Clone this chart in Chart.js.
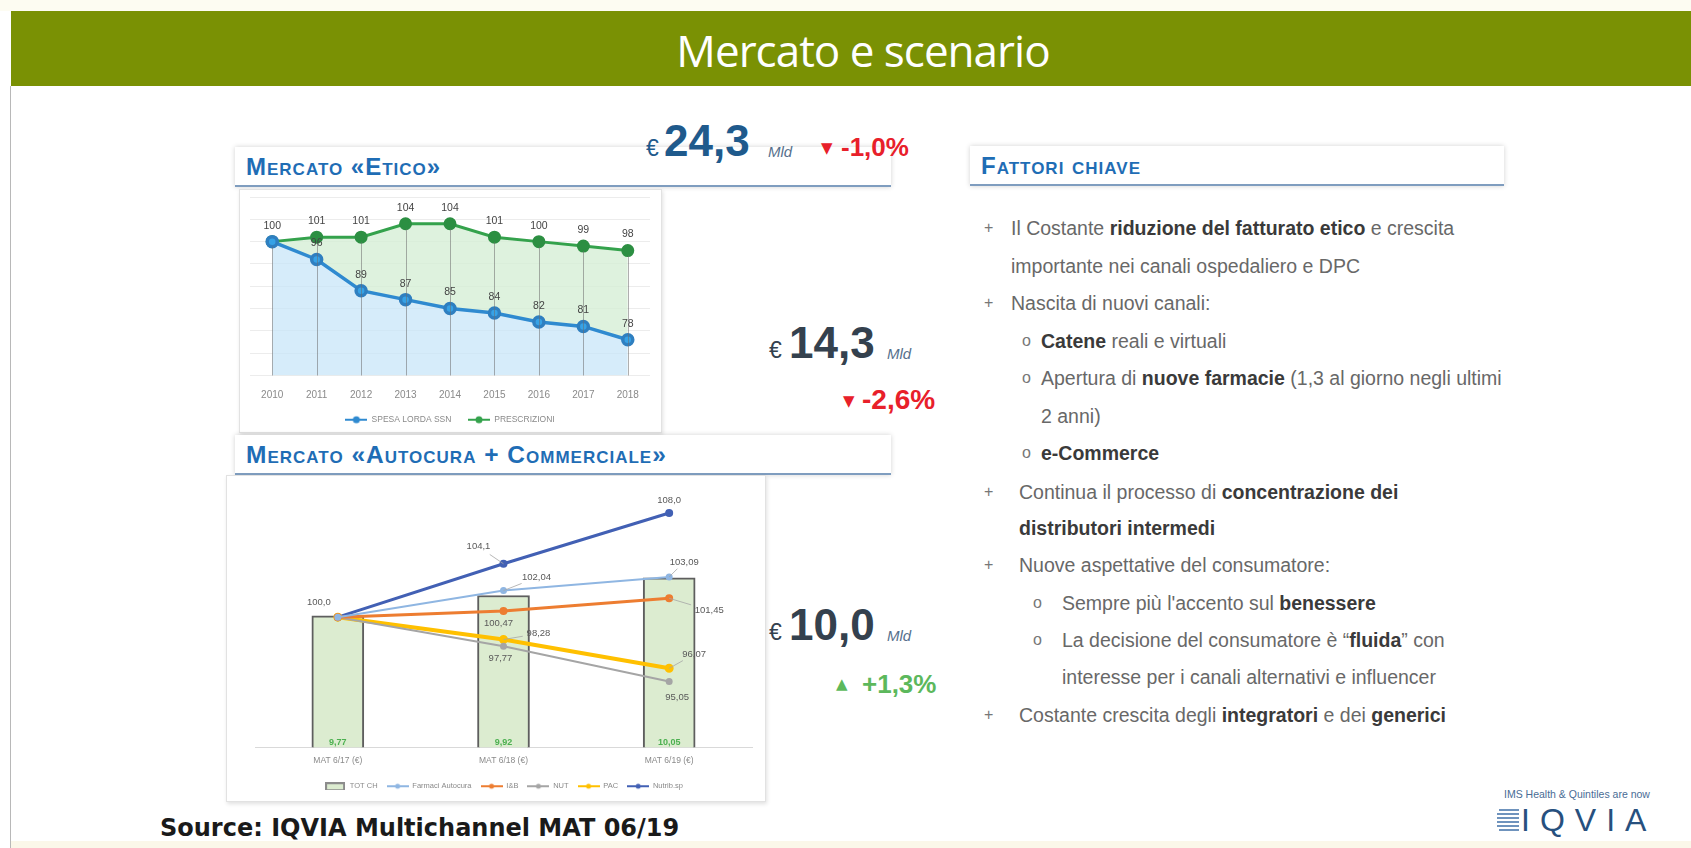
<!DOCTYPE html>
<html>
<head>
<meta charset="utf-8">
<script src="https://cdn.jsdelivr.net/npm/chart.js@4.4.1/dist/chart.umd.min.js"></script>
<style>
  body { margin:0; width:1691px; height:848px; position:relative; overflow:hidden; background:#fff; font-family:"Liberation Sans", Arial, sans-serif; }
  .abs { position:absolute; white-space:nowrap; }
  .topstrip { left:0; top:0; width:1691px; height:11px; background:#fdfcf2; }
  .bar { left:11px; top:11px; width:1680px; height:75px; background:#7a9104; }
  .title { left:0; width:1726px; top:20px; text-align:center; font:44px "Open Sans"; line-height:60px; letter-spacing:-1px; color:#fff; }
  .leftline { left:10px; top:86px; width:1px; height:762px; background:#b8b8b8; }
  .botstrip { left:11px; top:841px; width:1680px; height:7px; background:#fbf7e9; }
  .sec { background:#fff; border-bottom:2px solid #7f9dbf; box-shadow:0 0 5px rgba(0,0,0,0.18); }
  .sec span { position:absolute; left:11px; top:6px; font:bold 24px "Liberation Sans"; letter-spacing:1px; font-variant:small-caps; color:#1f6db5; }
  .frame { border:1px solid #e2e2e2; box-shadow:1px 2px 4px rgba(0,0,0,0.12); background:#fff; }
  .big { font:bold 44px "Liberation Sans"; line-height:44px; }
  .eur { font:23px "Liberation Sans"; line-height:23px; }
  .mld { font:italic 15px "Liberation Sans"; line-height:15px; color:#56708c; }
  .pct { font:bold 26px "Liberation Sans"; line-height:26px; }
  .tri { font:15px "DejaVu Sans"; line-height:15px; }
  .red { color:#e8202a; }
  .grn { color:#5cb85c; }
  .txt { font:19.5px "Liberation Sans"; line-height:20px; color:#686868; }
  .txt b { color:#3a3a3a; }
  .bul { font:16px "Liberation Sans"; line-height:20px; color:#777; }
  .src { font:bold 24px "DejaVu Sans"; line-height:24px; color:#1a1a1a; }
  .stripe { height:2px; background:#6f93bd; }
</style>
</head>
<body>
<div class="abs topstrip"></div>
<div class="abs bar"></div>
<div class="abs title">Mercato e scenario</div>
<div class="abs leftline"></div>
<div class="abs botstrip"></div>

<!-- section headers and picture frames -->
<div class="abs sec" style="left:235px;top:147px;width:656px;height:38px;"><span>Mercato «Etico»</span></div>
<div class="abs frame" style="left:239px;top:189px;width:421px;height:242px;"></div>
<div class="abs sec" style="left:235px;top:435px;width:656px;height:38px;"><span style="font-size:24.5px;">Mercato «Autocura + Commerciale»</span></div>
<div class="abs frame" style="left:226px;top:475px;width:538px;height:325px;"></div>
<div class="abs sec" style="left:970px;top:146px;width:534px;height:38px;"><span>Fattori chiave</span></div>

<!-- charts -->
<div class="abs" style="left:239px;top:188px;width:421px;height:246px;"><canvas id="etico"></canvas></div>
<div class="abs" style="left:226px;top:474px;width:538px;height:326px;"><canvas id="autocura"></canvas></div>

<!-- big values -->
<div class="abs eur" style="left:646px;top:137px;color:#1f5a8c;">€</div>
<div class="abs big" style="left:664px;top:119px;color:#1f5a8c;">24,3</div>
<div class="abs mld" style="left:768px;top:144px;">Mld</div>
<div class="abs tri red" style="left:821px;top:141px;">▼</div>
<div class="abs pct red" style="left:841px;top:134px;">-1,0%</div>

<div class="abs eur" style="left:769px;top:339px;color:#34414e;">€</div>
<div class="abs big" style="left:789px;top:321px;color:#34414e;">14,3</div>
<div class="abs mld" style="left:887px;top:346px;">Mld</div>
<div class="abs tri red" style="left:843px;top:394px;">▼</div>
<div class="abs pct red" style="left:862px;top:386px;font-size:28px;line-height:28px;">-2,6%</div>

<div class="abs eur" style="left:769px;top:621px;color:#34414e;">€</div>
<div class="abs big" style="left:789px;top:603px;color:#34414e;">10,0</div>
<div class="abs mld" style="left:887px;top:628px;">Mld</div>
<div class="abs tri grn" style="left:836px;top:677px;">▲</div>
<div class="abs pct grn" style="left:862px;top:671px;">+1,3%</div>

<!-- fattori chiave -->
<div class="abs bul" style="left:984px;top:218px;">+</div>
<div class="abs txt" style="left:1011px;top:218px;">Il Costante <b>riduzione del fatturato etico</b> e crescita</div>
<div class="abs txt" style="left:1011px;top:256px;">importante nei canali ospedaliero e DPC</div>
<div class="abs bul" style="left:984px;top:293px;">+</div>
<div class="abs txt" style="left:1011px;top:293px;">Nascita di nuovi canali:</div>
<div class="abs bul" style="left:1022px;top:331px;">o</div>
<div class="abs txt" style="left:1041px;top:331px;"><b>Catene</b> reali e virtuali</div>
<div class="abs bul" style="left:1022px;top:368px;">o</div>
<div class="abs txt" style="left:1041px;top:368px;">Apertura di <b>nuove farmacie</b> (1,3 al giorno negli ultimi</div>
<div class="abs txt" style="left:1041px;top:406px;">2 anni)</div>
<div class="abs bul" style="left:1022px;top:443px;">o</div>
<div class="abs txt" style="left:1041px;top:443px;"><b>e-Commerce</b></div>
<div class="abs bul" style="left:984px;top:482px;">+</div>
<div class="abs txt" style="left:1019px;top:482px;">Continua il processo di <b>concentrazione dei</b></div>
<div class="abs txt" style="left:1019px;top:518px;"><b>distributori intermedi</b></div>
<div class="abs bul" style="left:984px;top:555px;">+</div>
<div class="abs txt" style="left:1019px;top:555px;">Nuove aspettative del consumatore:</div>
<div class="abs bul" style="left:1033px;top:593px;">o</div>
<div class="abs txt" style="left:1062px;top:593px;">Sempre più l'accento sul <b>benessere</b></div>
<div class="abs bul" style="left:1033px;top:630px;">o</div>
<div class="abs txt" style="left:1062px;top:630px;">La decisione del consumatore è “<b>fluida</b>” con</div>
<div class="abs txt" style="left:1062px;top:667px;">interesse per i canali alternativi e influencer</div>
<div class="abs bul" style="left:984px;top:705px;">+</div>
<div class="abs txt" style="left:1019px;top:705px;">Costante crescita degli <b>integratori</b> e dei <b>generici</b></div>

<div class="abs src" style="left:160px;top:816px;">Source: IQVIA Multichannel MAT 06/19</div>

<!-- logo -->
<div class="abs" style="left:1504px;top:788px;font:10.5px 'Liberation Sans';color:#4a6c95;">IMS Health &amp; Quintiles are now</div>
<div class="abs stripe" style="left:1499px;top:809px;width:20px;"></div>
<div class="abs stripe" style="left:1497px;top:813px;width:22px;"></div>
<div class="abs stripe" style="left:1497px;top:817px;width:22px;"></div>
<div class="abs stripe" style="left:1497px;top:821px;width:22px;"></div>
<div class="abs stripe" style="left:1497px;top:825px;width:22px;"></div>
<div class="abs stripe" style="left:1499px;top:829px;width:20px;"></div>
<div class="abs" style="left:1521px;top:802px;font:32px 'Liberation Sans';line-height:36px;letter-spacing:10px;color:#27507e;">IQVIA</div>

<script>
// ---- Mercato «Etico» (index 2010 = 100)
var anni = ['2010', '2011', '2012', '2013', '2014', '2015', '2016', '2017', '2018'];
var spesaLordaSsn = [100, 96, 89, 87, 85, 84, 82, 81, 78];
var prescrizioni = [100, 101, 101, 104, 104, 101, 100, 99, 98];

// ---- Mercato «Autocura + Commerciale»
var periodi = ['MAT 6/17 (€)', 'MAT 6/18 (€)', 'MAT 6/19 (€)'];
var totCh = [9.77, 9.92, 10.05];
var farmaciAutocura = [100, 102.04, 103.09];
var igieneBellezza = [100, 100.47, 101.45];
var nutrizionali = [100, 97.77, 95.05];
var parafarmaco = [100, 98.28, 96.07];
var nutribSp = [100, 104.1, 108.0];

function legendIcon(color, lw, r) {
  var c = document.createElement('canvas');
  c.width = 22; c.height = 10;
  var g = c.getContext('2d');
  g.strokeStyle = color; g.lineWidth = lw;
  g.beginPath(); g.moveTo(0, 5); g.lineTo(22, 5); g.stroke();
  g.fillStyle = color;
  g.beginPath(); g.arc(11, 5, r, 0, Math.PI * 2); g.fill();
  return c;
}
function boxIcon() {
  var c = document.createElement('canvas');
  c.width = 20; c.height = 8;
  var g = c.getContext('2d');
  g.fillStyle = '#8c8c8c'; g.fillRect(0, 0, 20, 8);
  g.fillStyle = '#dcecd0'; g.fillRect(2, 2, 16, 5);
  return c;
}
function fmt(v, dec) { return v.toFixed(dec).replace('.', ','); }

// drop lines + value labels for the upper chart
var eticoDecor = {
  id: 'eticoDecor',
  afterDatasetsDraw: function (chart) {
    var ctx = chart.ctx, area = chart.chartArea;
    var top = chart.getDatasetMeta(1).data;
    ctx.save();
    ctx.strokeStyle = 'rgba(110,110,110,0.55)';
    ctx.lineWidth = 1;
    top.forEach(function (p) {
      var x = Math.round(p.x) + 0.5;
      ctx.beginPath(); ctx.moveTo(x, p.y + 5); ctx.lineTo(x, area.bottom); ctx.stroke();
    });
    ctx.font = '10.5px "Liberation Sans"';
    ctx.fillStyle = '#444';
    ctx.textAlign = 'center';
    ctx.textBaseline = 'middle';
    chart.data.datasets.forEach(function (ds, i) {
      chart.getDatasetMeta(i).data.forEach(function (p, j) {
        if (i === 0 && j === 0) return;
        ctx.fillText(String(ds.data[j]), p.x, p.y - 16);
      });
    });
    ctx.restore();
  }
};

new Chart(document.getElementById('etico'), {
  type: 'line',
  data: {
    labels: anni,
    datasets: [{
      label: 'SPESA LORDA SSN',
      data: spesaLordaSsn,
      borderColor: '#2f8ad0',
      backgroundColor: 'rgba(200,230,248,0.75)',
      pointBackgroundColor: '#36a2e6',
      pointBorderColor: '#2f7fc0',
      pointRadius: 5,
      borderWidth: 3.5,
      fill: 'start',
      tension: 0
    }, {
      label: 'PRESCRIZIONI',
      data: prescrizioni,
      borderColor: '#34a24c',
      backgroundColor: 'rgba(214,239,214,0.8)',
      pointBackgroundColor: '#2c8f42',
      pointBorderColor: '#2c8f42',
      pointRadius: 5,
      borderWidth: 3,
      fill: '-1',
      tension: 0
    }]
  },
  options: {
    responsive: true,
    maintainAspectRatio: false,
    animation: false,
    layout: { padding: { left: 11, right: 10, top: 9, bottom: 0 } },
    scales: {
      x: {
        offset: true,
        grid: { display: false, drawTicks: false },
        border: { display: false },
        ticks: { color: '#8a8a8a', font: { size: 10, family: 'Liberation Sans' }, padding: 14 }
      },
      y: {
        min: 70, max: 110,
        ticks: { display: false, stepSize: 5 },
        grid: { color: '#ececec', drawTicks: false },
        border: { display: false }
      }
    },
    plugins: {
      tooltip: { enabled: false },
      legend: {
        position: 'bottom',
        labels: {
          usePointStyle: true,
          pointStyleWidth: 22,
          padding: 0,
          color: '#8a8a8a',
          font: { size: 8.5, family: 'Liberation Sans' },
          generateLabels: function (chart) {
            var items = Chart.defaults.plugins.legend.labels.generateLabels(chart);
            var icons = [legendIcon('#2f8ad0', 2, 3.5), legendIcon('#34a24c', 2, 3.5)];
            items.forEach(function (it) {
              it.pointStyle = icons[it.datasetIndex];
              if (it.datasetIndex === 0) it.text = it.text + '       ';
            });
            return items;
          }
        }
      }
    }
  },
  plugins: [eticoDecor]
});

// labels with optional leader lines for the lower chart
var autocuraLabels = {
  id: 'autocuraLabels',
  afterDatasetsDraw: function (chart) {
    var ctx = chart.ctx, area = chart.chartArea;
    ctx.save();
    ctx.textAlign = 'center';
    ctx.textBaseline = 'middle';
    chart.data.datasets.forEach(function (ds, i) {
      var meta = chart.getDatasetMeta(i);
      meta.data.forEach(function (p, j) {
        if (ds.type === 'bar') {
          ctx.font = 'bold 9px "Liberation Sans"';
          ctx.fillStyle = '#4cb050';
          ctx.fillText(fmt(ds.data[j], 2), p.x, area.bottom - 5);
          return;
        }
        var lp = ds.labelPos[j];
        if (!lp) return;
        var lx = p.x + lp[0], ly = p.y + lp[1];
        if (lp[2]) {
          ctx.strokeStyle = '#a6a6a6';
          ctx.lineWidth = 0.8;
          ctx.beginPath();
          ctx.moveTo(p.x, p.y);
          ctx.lineTo(lx - lp[0] * 0.45, ly - lp[1] * 0.45);
          ctx.stroke();
        }
        ctx.font = '9.5px "Liberation Sans"';
        ctx.fillStyle = '#595959';
        ctx.fillText(fmt(ds.data[j], ds.decimals), lx, ly);
      });
    });
    ctx.restore();
  }
};

function lineSet(label, data, color, width, decimals, labelPos) {
  return {
    type: 'line', label: label, data: data, yAxisID: 'y', order: 0,
    borderColor: color, backgroundColor: color, borderWidth: width,
    pointRadius: 2.5, pointBackgroundColor: color, pointBorderColor: color,
    fill: false, tension: 0, decimals: decimals, labelPos: labelPos
  };
}

new Chart(document.getElementById('autocura'), {
  type: 'bar',
  data: {
    labels: periodi,
    datasets: [
      {
        type: 'bar', label: 'TOT CH', data: totCh, yAxisID: 'yBar', order: 1,
        backgroundColor: '#dcecd0', borderColor: '#5e5e5e',
        borderWidth: { top: 2, left: 2, right: 2, bottom: 0 },
        barThickness: 52
      },
      lineSet('Farmaci Autocura', farmaciAutocura, '#8fb6e2', 2, 2, [null, [33, -13, true], [15, -15, true]]),
      lineSet('I&B', igieneBellezza, '#ed7d31', 3, 2, [null, [-5, 12, false], [40, 12, true]]),
      lineSet('NUT', nutrizionali, '#a5a5a5', 2, 2, [null, [-3, 12, false], [8, 16, false]]),
      lineSet('PAC', parafarmaco, '#ffc000', 4, 2, [null, [35, -6, true], [25, -14, true]]),
      lineSet('Nutrib.sp', nutribSp, '#4260b4', 3, 1, [[-19, -15, false], [-25, -17, true], [0, -13, false]])
    ]
  },
  options: {
    responsive: true,
    maintainAspectRatio: false,
    animation: false,
    layout: { padding: { left: 29, right: 12, top: 13, bottom: 0 } },
    scales: {
      x: {
        offset: true,
        grid: { display: false, drawTicks: false },
        border: { display: true, color: '#d9d9d9' },
        ticks: { color: '#8a8a8a', font: { size: 8.5, family: 'Liberation Sans' }, padding: 8 }
      },
      y: { display: false, min: 90, max: 110 },
      yBar: { display: false, min: 8.8, max: 10.72 }
    },
    plugins: {
      tooltip: { enabled: false },
      legend: {
        position: 'bottom',
        labels: {
          usePointStyle: true,
          pointStyleWidth: 22,
          padding: 9,
          color: '#8a8a8a',
          font: { size: 7.5, family: 'Liberation Sans' },
          sort: function (a, b) { return a.datasetIndex - b.datasetIndex; },
          generateLabels: function (chart) {
            var items = Chart.defaults.plugins.legend.labels.generateLabels(chart);
            items.forEach(function (it) {
              var ds = chart.data.datasets[it.datasetIndex];
              it.pointStyle = ds.type === 'bar' ? boxIcon() : legendIcon(ds.borderColor, 2, 2.5);
            });
            return items;
          }
        }
      }
    }
  },
  plugins: [autocuraLabels]
});
</script>
</body>
</html>
